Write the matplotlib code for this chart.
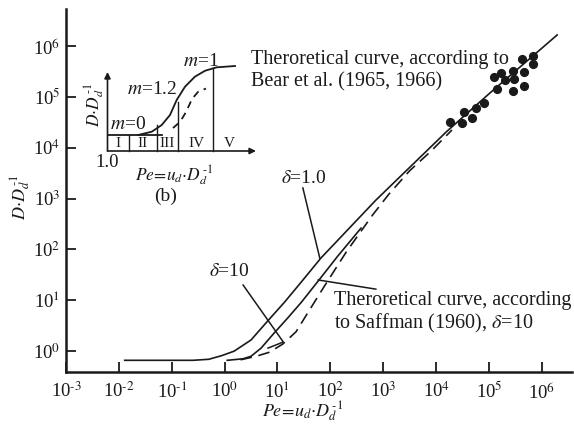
import numpy as np
import matplotlib
matplotlib.use('Agg')
from matplotlib import pyplot as plt
from matplotlib.ticker import FuncFormatter

plt.rcParams['font.family'] = ['Liberation Serif', 'DejaVu Serif']
plt.rcParams['mathtext.fontset'] = 'stix'

# main chart, values as log10 exponents
upper_x = [-1.89, -0.6, -0.3, -0.06, 0.18, 0.5, 0.82, 1.13, 1.45, 1.82, 2.86, 4.2, 5.02, 6.29]
upper_y = [-0.18, -0.18, -0.16, -0.09, 0.0, 0.22, 0.6, 0.96, 1.36, 1.83, 2.97, 4.32, 5.08, 6.22]

mid_x = [0.05, 0.35, 0.5, 0.69, 0.94, 1.2, 1.45, 1.77, 2.14, 2.58]
mid_y = [-0.18, -0.15, -0.1, 0.06, 0.36, 0.66, 0.96, 1.38, 1.87, 2.42]

saff_x = [0.3, 0.6, 0.85, 1.1, 1.35, 1.6, 1.9, 2.3, 2.8, 3.1, 3.5, 3.9, 4.3]
saff_y = [-0.17, -0.1, -0.02, 0.14, 0.38, 0.8, 1.3, 1.95, 2.68, 3.08, 3.55, 3.93, 4.35]

pts_x = [4.27, 4.49, 4.52, 4.68, 4.76, 4.90, 5.16, 5.09, 5.23, 5.31, 5.46, 5.48,
         5.46, 5.66, 5.66, 5.63, 5.84, 5.84]
pts_y = [4.50, 4.49, 4.71, 4.58, 4.78, 4.89, 5.15, 5.39, 5.47, 5.33, 5.52, 5.35,
         5.12, 5.50, 5.22, 5.74, 5.81, 5.64]

xticks = [-3, -2, -1, 0, 1, 2, 3, 4, 5, 6]
yticks = [0, 1, 2, 3, 4, 5, 6]

# inset (b) schematic, in inset units (origin = corner of the arrows)
in_flat_x = [0.0, 0.37]
in_flat_y = [0.203, 0.203]
in_curve_x = [0.207, 0.298, 0.365, 0.421, 0.466, 0.522, 0.589, 0.657, 0.735, 0.859]
in_curve_y = [0.203, 0.244, 0.329, 0.456, 0.646, 0.814, 0.941, 1.016, 1.059, 1.076]
in_dash_x = [0.441, 0.488, 0.529, 0.569, 0.609, 0.663]
in_dash_y = [0.291, 0.367, 0.494, 0.658, 0.747, 0.791]
in_vline_x = [0.145, 0.333, 0.475, 0.710]
in_vline_top = [0.203, 0.33, 0.62, 1.05]
in_roman = ['I', 'II', 'III', 'IV', 'V']
in_roman_x = [0.071, 0.233, 0.401, 0.599, 0.818]

ink = '#1a1a1a'
pe = r'$Pe\!=\!u_d{\cdot}D_d^{\,\text{-}1}$'
dd = r'$D{\cdot}D_d^{\,\text{-}1}$'
W, H = 574, 425
fig = plt.figure(figsize=(W / 100, H / 100), dpi=100)
ax = fig.add_axes([66 / W, 1 - 372 / H, 506 / W, 363 / H])

ax.plot(10 ** np.array(upper_x), 10 ** np.array(upper_y), color=ink, lw=1.2)
ax.plot(10 ** np.array(mid_x), 10 ** np.array(mid_y), color=ink, lw=1.2)
ax.plot(10 ** np.array(saff_x), 10 ** np.array(saff_y), color=ink, lw=1.2,
        ls=(0, (7, 4)))
ax.plot(10 ** np.array(pts_x), 10 ** np.array(pts_y), 'o', color=ink, ms=5.6)

ax.set_xscale('log')
ax.set_yscale('log')
ax.set_xlim(10 ** -3.0, 10 ** 6.57)
ax.set_ylim(10 ** -0.41, 10 ** 6.73)
ax.set_xticks([10.0 ** t for t in xticks])
ax.set_yticks([10.0 ** t for t in yticks])
fmt = FuncFormatter(lambda v, p: r'$\mathdefault{10^{\text{%s}}}$'
                    % ('-%d' % round(-np.log10(v)) if v < 1 else '%d' % round(np.log10(v))))
ax.xaxis.set_major_formatter(fmt)
ax.yaxis.set_major_formatter(fmt)
ax.minorticks_off()
ax.tick_params(direction='in', length=7, width=1.3, labelsize=13.5, colors=ink)
ax.tick_params(axis='x', pad=7)
ax.tick_params(axis='y', pad=4)
for s in ['top', 'right']:
    ax.spines[s].set_visible(False)
for s in ['left', 'bottom']:
    ax.spines[s].set_linewidth(1.8)
    ax.spines[s].set_color(ink)

ax.set_xlabel(pe, fontsize=13, color=ink)
ax.xaxis.set_label_coords(0.468, -0.077)
ax.set_ylabel(dd, fontsize=13, color=ink)
ax.yaxis.set_label_coords(-0.066, 0.482)

# pointers and annotations
ax.plot([10 ** 1.48, 10 ** 1.80], [10 ** 3.21, 10 ** 1.83], color=ink, lw=1.1)
ax.text(10 ** 1.07, 10 ** 3.40, r'$\delta$=1.0', fontsize=14, color=ink,
        ha='left', va='center')
ax.plot([10 ** 0.35, 10 ** 1.11, 10 ** 0.82], [10 ** 1.30, 10 ** 0.18, 10 ** 0.06],
        color=ink, lw=1.1)
ax.text(10 ** -0.29, 10 ** 1.57, r'$\delta$=10', fontsize=14, color=ink,
        ha='left', va='center')
ax.plot([10 ** 2.86, 10 ** 1.77], [10 ** 1.22, 10 ** 1.40], color=ink, lw=1.1)
ax.text(10 ** 2.07, 10 ** 1.0, 'Theroretical curve, according', fontsize=14.5,
        color=ink, ha='left', va='center')
ax.text(10 ** 2.07, 10 ** 0.55, r'to Saffman (1960), $\delta$=10', fontsize=14.5,
        color=ink, ha='left', va='center')
ax.text(10 ** 0.5, 10 ** 5.73, 'Theroretical curve, according to', fontsize=14.5,
        color=ink, ha='left', va='center')
ax.text(10 ** 0.5, 10 ** 5.30, 'Bear et al. (1965, 1966)', fontsize=14.5,
        color=ink, ha='left', va='center')

# inset (b)
axi = fig.add_axes([107.5 / W, 1 - 151 / H, 148.5 / W, 79 / H])
axi.set_xlim(0, 1)
axi.set_ylim(0, 1)
axi.axis('off')
axi.annotate('', xy=(1, 0), xytext=(0, 0),
             arrowprops=dict(arrowstyle='-|>', color=ink, lw=1.2, mutation_scale=9,
                             shrinkA=0, shrinkB=0))
axi.annotate('', xy=(0, 1), xytext=(0, 0),
             arrowprops=dict(arrowstyle='-|>', color=ink, lw=1.2, mutation_scale=9,
                             shrinkA=0, shrinkB=0))
axi.plot(in_flat_x, in_flat_y, color=ink, lw=1.3, clip_on=False)
axi.plot(in_curve_x, in_curve_y, color=ink, lw=1.3, clip_on=False)
axi.plot(in_dash_x, in_dash_y, color=ink, lw=1.3, ls=(0, (4, 3)), clip_on=False)
for vx, vt in zip(in_vline_x, in_vline_top):
    axi.plot([vx, vx], [0, vt], color=ink, lw=1.0, clip_on=False)
for lab, lx in zip(in_roman, in_roman_x):
    axi.text(lx, 0.1, lab, fontsize=11, color=ink, ha='center', va='center')
axi.text(0.017, 0.33, r'$m$=0', fontsize=14, color=ink, ha='left', va='center')
axi.text(0.131, 0.78, r'$m$=1.2', fontsize=14, color=ink, ha='left', va='center')
axi.text(0.508, 1.13, r'$m$=1', fontsize=14, color=ink, ha='left', va='center')
axi.text(0.0, -0.15, '1.0', fontsize=13.5, color=ink, ha='center', va='center')
axi.text(0.185, -0.32, pe, fontsize=12.5, color=ink, ha='left', va='center')
axi.text(0.394, -0.57, '(b)', fontsize=14, color=ink, ha='center', va='center')
axi.text(-0.085, 0.58, dd, fontsize=12.5, color=ink,
         ha='center', va='center', rotation=90)

fig.savefig('out.png', dpi=100)
